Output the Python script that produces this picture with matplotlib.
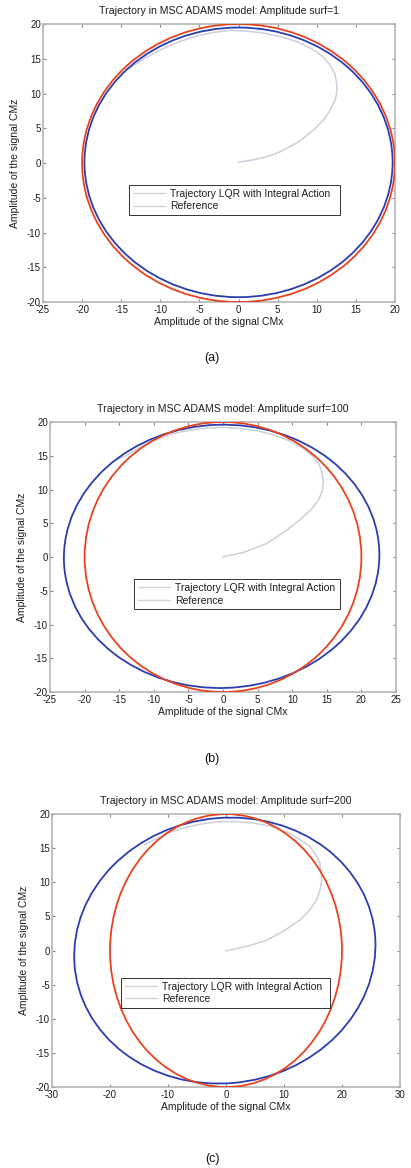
# -*- coding: utf-8 -*-

import numpy as np
import matplotlib
matplotlib.use('Agg')
import matplotlib.pyplot as plt
from matplotlib.patches import Ellipse
from matplotlib.lines import Line2D

plt.rcParams['font.family'] = ['Liberation Sans', 'DejaVu Sans']
plt.rcParams['axes.unicode_minus'] = False

# panel settings
titles = ['Trajectory in MSC ADAMS model: Amplitude surf=1',
          'Trajectory in MSC ADAMS model: Amplitude surf=100',
          'Trajectory in MSC ADAMS model: Amplitude surf=200']
captions = ['(a)', '(b)', '(c)']
x_limits = [(-25, 20), (-25, 25), (-30, 30)]
x_ticks = [[-25, -20, -15, -10, -5, 0, 5, 10, 15, 20],
           [-25, -20, -15, -10, -5, 0, 5, 10, 15, 20, 25],
           [-30, -20, -10, 0, 10, 20, 30]]
y_ticks = [-20, -15, -10, -5, 0, 5, 10, 15, 20]

# reference circle (radius)
ref_radius = 20.0

# steady-state trajectory ellipse: centre x, centre y, x semi-axis, y semi-axis, tilt (deg)
traj_cx = [0.0, -0.2, -0.2]
traj_cy = [0.1, 0.1, 0.0]
traj_rx = [19.7, 22.8, 26.0]
traj_ry = [19.4, 19.5, 19.45]
traj_tilt = [0.0, 2.0, 4.0]

# transient part of the trajectory, starting at origin
trans_a_x = [0, 2.0, 3.6, 5.3, 7.6, 9.6, 11.0, 11.7, 12.4, 12.6, 12.5, 12.3, 11.7, 10.8,
             9.3, 7.4, 5.3, 3.2, 1.0, -1.1, -3.2, -5.3, -7.5, -9.6, -11.8, -14.0]
trans_a_y = [0.1, 0.5, 0.9, 1.6, 3.0, 4.75, 6.4, 7.6, 9.2, 10.5, 11.8, 12.9, 14.1, 15.3,
             16.5, 17.5, 18.2, 18.7, 19.0, 19.1, 18.8, 18.3, 17.5, 16.5, 15.2, 13.6]
trans_b_x = [0, 3.0, 6.3, 9.0, 11.1, 12.7, 13.8, 14.4, 14.5, 14.3, 13.8, 12.9, 11.6, 9.6,
             7.3, 5.0, 2.5, 0.0, -2.4, -4.8, -7.2, -9.2, -11.0, -12.6, -14.2, -15.5]
trans_b_y = [0.05, 0.7, 2.0, 3.8, 5.5, 7.0, 8.4, 10.0, 11.2, 12.6, 13.9, 15.0, 16.1, 17.2,
             18.1, 18.7, 19.05, 19.2, 19.1, 18.8, 18.3, 17.6, 16.8, 15.9, 14.9, 14.4]
trans_c_x = [0, 3.5, 7.0, 10.0, 12.8, 14.5, 15.6, 16.2, 16.5, 16.4, 16.2, 15.5, 14.5, 12.7,
             10.5, 7.7, 4.7, 1.8, -1.0, -4.0, -6.8, -9.0, -10.8, -12.5, -14.0]
trans_c_y = [-0.05, 0.6, 1.5, 2.9, 4.5, 6.0, 7.4, 8.8, 10.3, 11.6, 12.8, 14.0, 15.2, 16.3,
             17.4, 18.2, 18.7, 18.9, 18.9, 18.6, 18.1, 17.5, 16.9, 16.2, 15.5]
trans_x = [trans_a_x, trans_b_x, trans_c_x]
trans_y = [trans_a_y, trans_b_y, trans_c_y]

legend_labels = ['Trajectory LQR with Integral Action', 'Reference']

# layout (figure fractions) and legend boxes (axes fractions)
axes_rects = [[0.1046, 0.7414, 0.8564, 0.2380],
              [0.1217, 0.4075, 0.8418, 0.2312],
              [0.1265, 0.0693, 0.8467, 0.2337]]
caption_y = [0.6935, 0.3500, 0.0077]
legend_boxes = [(0.244, 0.295, 0.600, 0.126),
                (0.243, 0.295, 0.595, 0.122),
                (0.198, 0.280, 0.601, 0.120)]

blue = '#2c3db0'
red = '#e8431f'
faint = '#cdd0dc'
text_col = '#1e1e1e'
frame_col = '#b5b5b5'

fig = plt.figure(figsize=(4.11, 11.68), dpi=100)

for i in range(3):
    ax = fig.add_axes(axes_rects[i])
    ax.plot(trans_x[i], trans_y[i], color=faint, lw=1.1, zorder=2)
    ax.add_patch(Ellipse((traj_cx[i], traj_cy[i]), 2 * traj_rx[i], 2 * traj_ry[i],
                         angle=traj_tilt[i], fill=False, edgecolor=blue, lw=1.3, zorder=3))
    ax.add_patch(Ellipse((0, 0), 2 * ref_radius, 2 * ref_radius,
                         fill=False, edgecolor=red, lw=1.3, zorder=4))

    ax.set_xlim(x_limits[i])
    ax.set_ylim(-20, 20)
    ax.set_xticks(x_ticks[i])
    ax.set_yticks(y_ticks)
    ax.tick_params(direction='in', length=2, width=0.8, color='#888888',
                   top=True, right=True, labelsize=7, labelcolor=text_col, pad=1.5)
    ax.tick_params(axis='x', pad=2.2)
    for s in ax.spines.values():
        s.set_color(frame_col)
        s.set_linewidth(1.2)

    ax.set_title(titles[i], fontsize=7.6, color=text_col, pad=7)
    ax.set_xlabel('Amplitude of the signal CMx', fontsize=7.5, color=text_col, labelpad=1.5)
    ax.set_ylabel('Amplitude of the signal CMz', fontsize=7.5, color=text_col, labelpad=5)

    handles = [Line2D([], [], color='#d4d4d4', lw=1.0),
               Line2D([], [], color='#d4d4d4', lw=1.0)]
    leg = ax.legend(handles, legend_labels, loc='upper left', bbox_to_anchor=legend_boxes[i],
                    mode='expand', fontsize=7.5, fancybox=False, framealpha=1,
                    edgecolor='#333333', handlelength=3.1, handletextpad=0.5,
                    borderpad=0.35, labelspacing=0.25, borderaxespad=0)
    leg.get_frame().set_linewidth(0.7)
    for t in leg.get_texts():
        t.set_color(text_col)

    fig.text(0.516, caption_y[i], captions[i], ha='center', va='center',
             fontsize=9, color='#111111')

fig.savefig('out.png', dpi=100)
